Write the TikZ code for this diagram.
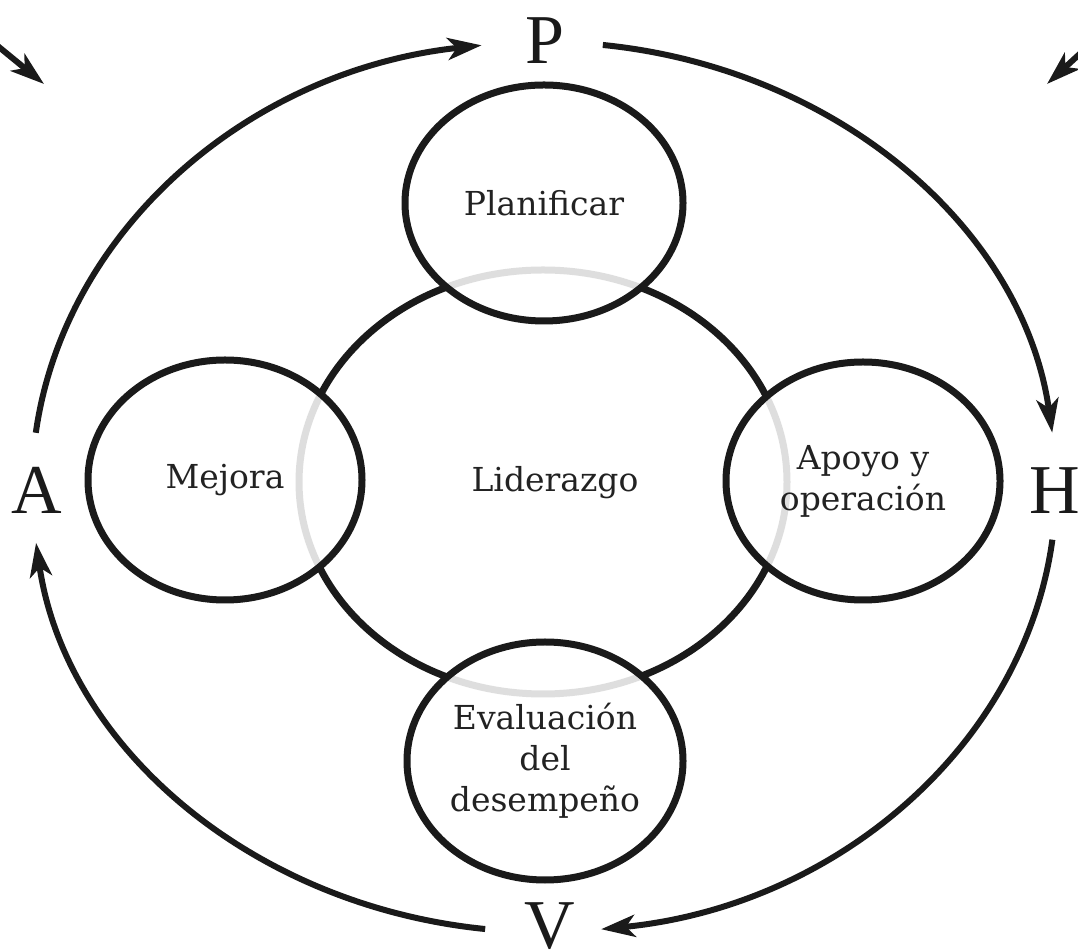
\documentclass[tikz,border=0pt]{standalone}
\usepackage{fontspec}
\usetikzlibrary{arrows.meta,shapes.geometric,calc}
\newfontfamily\satfont{DejaVu Serif}
\newfontfamily\letfont{Liberation Serif}
\definecolor{ink}{HTML}{1A1A1A}
\definecolor{txt}{HTML}{222222}
\begin{document}
\begin{tikzpicture}[x=1pt,y=1pt,
  ring/.style={ellipse, draw=ink, line width=7pt, inner sep=0pt},
  sat/.style={ellipse, draw=ink, line width=7pt, fill=white, fill opacity=0.86,
    text opacity=1, inner sep=0pt, align=center, text=txt,
    font=\satfont\fontsize{33}{41}\selectfont},
  lbl/.style={inner sep=0pt, text=txt, font=\satfont\fontsize{33}{41}\selectfont},
  letter/.style={inner sep=0pt, text=ink, font=\letfont\fontsize{70}{70}\selectfont},
  cyc/.style={draw=ink, line width=6pt, -{Stealth[length=34pt,width=22pt,inset=9pt]}}
]
\useasboundingbox (0,0) rectangle (1078,950);
\clip (0,0) rectangle (1078,950);
\coordinate (O) at (544,463);
% central ring
\node[ring, minimum width=488pt, minimum height=424pt] (lid) at (543,468) {};
\node[lbl] (lidtext) at (555,467) {Liderazgo};
% satellites
\node[sat, minimum width=278pt, minimum height=236pt] (plan) at (544,747) {Planificar};
\node[sat, minimum width=274pt, minimum height=240pt] (mej) at (225,470) {Mejora};
\node[sat, minimum width=274pt, minimum height=238pt] (apo) at (863,469) {Apoyo y\\operación};
\node[sat, minimum width=276pt, minimum height=238pt] (eva) at (545,189) {Evaluación\\del\\desempeño};
% letters
\node[letter] (P) at (545,909) {P};
\node[letter] (H) at (1055,459) {H};
\node[letter] (V) at (550,24) {V};
\node[letter] (A) at (37,460) {A};
% cycle arcs
\coordinate (a1) at ($(O)+(173:512pt and 445pt)$);
\coordinate (p1) at ($(O)+(83.4:512pt and 445pt)$);
\coordinate (h1) at ($(O)+(-6.8:512pt and 445pt)$);
\coordinate (v1) at ($(O)+(-96.6:512pt and 445pt)$);
\draw[cyc] (a1) arc[start angle=173, end angle=97, x radius=512pt, y radius=445pt];
\draw[cyc] (p1) arc[start angle=83.4, end angle=7, x radius=512pt, y radius=445pt];
\draw[cyc] (h1) arc[start angle=-6.8, end angle=-83.6, x radius=512pt, y radius=445pt];
\draw[cyc] (v1) arc[start angle=-96.6, end angle=-172.8, x radius=512pt, y radius=445pt];
% cut-off corner arrows
\coordinate (tl0) at (-6,907);
\coordinate (tl1) at (44,866);
\coordinate (tr0) at (1084,900);
\coordinate (tr1) at (1047,866);
\draw[cyc] (tl0) -- (tl1);
\draw[cyc] (tr0) -- (tr1);
\end{tikzpicture}
\end{document}
